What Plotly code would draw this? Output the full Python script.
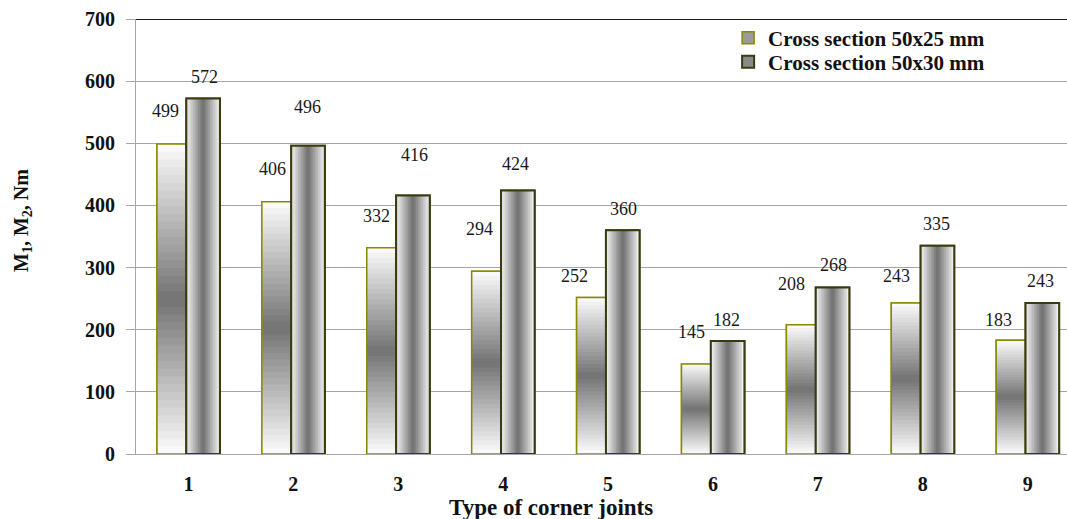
import plotly.graph_objects as go

# ---- data ----
categories = ["1", "2", "3", "4", "5", "6", "7", "8", "9"]
series_names = ["Cross section 50x25 mm", "Cross section 50x30 mm"]
values_25 = [499, 406, 332, 294, 252, 145, 208, 243, 183]
values_30 = [572, 496, 416, 424, 360, 182, 268, 335, 243]
y_ticks = [0, 100, 200, 300, 400, 500, 600, 700]

# ---- style ----
FONT = "Liberation Serif"
BORDER_25 = "#8a8a00"
BORDER_30 = "#3b3b12"
OFF_25, W_25 = -0.30, 0.28
OFF_30, W_30 = -0.02, 0.32
N_SEG = 40   # vertical gradient steps (series 1)
M_SEG = 20   # horizontal gradient steps (series 2)
# pixel offsets of data labels from bar tops (manually placed labels)
LBL_DX_25 = [-23, -21, -22, -24, -34, -21, -26, -26, -29]
LBL_DY_25 = [33, 33, 32, 42, 21, 32, 41, 27, 20]
LBL_DX_30 = [16, 14, 16, 12, 15, 14, 16, 14, 13]
LBL_DY_30 = [22, 39, 40, 27, 21, 21, 22, 22, 22]


def grey(level):
    g = int(round(level))
    return f"rgb({g},{g},{g})"


def center_gradient(f, dark, light):
    return grey(dark + (light - dark) * abs(2 * f - 1))


fig = go.Figure()

# Series 1: legend swatch / base
fig.add_trace(go.Bar(
    x=categories, y=values_25, name=series_names[0], offset=OFF_25, width=W_25,
    marker=dict(color="#9a9a9a", line=dict(color=BORDER_25, width=1.5)),
    showlegend=True, legend="legend", hoverinfo="skip"))
for k in range(N_SEG):
    f = (k + 0.5) / N_SEG
    fig.add_trace(go.Bar(
        x=categories,
        y=[v * (1 - k / N_SEG) for v in values_25],
        base=[v * k / N_SEG for v in values_25],
        offset=OFF_25, width=W_25,
        marker=dict(color=center_gradient(f, 115, 252), line=dict(width=0)),
        showlegend=False, hoverinfo="skip"))
fig.add_trace(go.Bar(
    x=categories, y=values_25, offset=OFF_25, width=W_25,
    marker=dict(color="rgba(0,0,0,0)", line=dict(color=BORDER_25, width=1.5)),
    showlegend=False, hovertemplate="%{x}: %{y}<extra>" + series_names[0] + "</extra>"))

# Series 2: legend swatch / base
fig.add_trace(go.Bar(
    x=categories, y=values_30, name=series_names[1], offset=OFF_30, width=W_30,
    marker=dict(color="#8a8a8a", line=dict(color=BORDER_30, width=2)),
    showlegend=True, legend="legend2", hoverinfo="skip"))
for j in range(M_SEG):
    u = (j + 0.5) / M_SEG
    fig.add_trace(go.Bar(
        x=categories, y=values_30,
        offset=OFF_30 + W_30 * j / M_SEG, width=W_30 * (1 - j / M_SEG),
        marker=dict(color=center_gradient(u, 110, 245), line=dict(width=0)),
        showlegend=False, hoverinfo="skip"))
fig.add_trace(go.Bar(
    x=categories, y=values_30, offset=OFF_30, width=W_30,
    marker=dict(color="rgba(0,0,0,0)", line=dict(color=BORDER_30, width=2)),
    showlegend=False, hovertemplate="%{x}: %{y}<extra>" + series_names[1] + "</extra>"))

annotations = []
for vals, dxs, dys in ((values_25, LBL_DX_25, LBL_DY_25), (values_30, LBL_DX_30, LBL_DY_30)):
    for i, (v, dx, dy) in enumerate(zip(vals, dxs, dys)):
        annotations.append(dict(
            x=i, y=v, xref="x", yref="y", text=str(v), showarrow=False,
            xshift=dx, yshift=dy, xanchor="center", yanchor="middle",
            font=dict(family=FONT, size=18, color="#1a1a1a")))

annotations.append(dict(
    x=-0.1214, y=0.538, xref="paper", yref="paper",
    text="M<sub>1</sub>, M<sub>2</sub>, Nm", textangle=-90, showarrow=False,
    xanchor="center", yanchor="middle",
    font=dict(family=FONT, size=20, color="#111111", weight="bold")))
annotations.append(dict(
    x=0.446, y=-0.122, xref="paper", yref="paper",
    text="Type of corner joints", showarrow=False,
    xanchor="center", yanchor="middle",
    font=dict(family=FONT, size=23, color="#111111", weight="bold")))

legend_common = dict(xanchor="left", yanchor="middle", bgcolor="rgba(0,0,0,0)",
                     font=dict(family=FONT, size=21, color="#111111", weight="bold"))

fig.update_layout(
    width=1067, height=519,
    margin=dict(l=136, r=0, t=19, b=65, pad=0),
    paper_bgcolor="white", plot_bgcolor="white",
    barmode="overlay",
    showlegend=True,
    legend=dict(x=0.636, y=1 - (38 - 19) / 435, **legend_common),
    legend2=dict(x=0.636, y=1 - (62 - 19) / 435, **legend_common),
    annotations=annotations,
    shapes=[dict(type="line", xref="paper", yref="y", x0=0, x1=1, y0=700, y1=700,
                 line=dict(color="#1a1a1a", width=2), layer="above")],
    xaxis=dict(type="category", categoryorder="array", categoryarray=categories,
               range=[-0.5, 8.375], showgrid=False, showline=True,
               linecolor="#a6a6a6", linewidth=1, ticks="", ticklabelstandoff=12,
               tickfont=dict(family=FONT, size=20, color="#111111", weight="bold"),
               zeroline=False),
    yaxis=dict(range=[0, 700], tickvals=y_ticks, showgrid=True, gridcolor="#a6a6a6",
               gridwidth=1, showline=True, linecolor="#a6a6a6", linewidth=1,
               ticks="outside", ticklen=9, tickcolor="#a6a6a6", ticklabelstandoff=7,
               tickfont=dict(family=FONT, size=20, color="#111111", weight="bold"),
               zeroline=False),
)

fig.write_html("out.html", config={"displayModeBar": False},
               post_script="document.body.style.margin='0';")
